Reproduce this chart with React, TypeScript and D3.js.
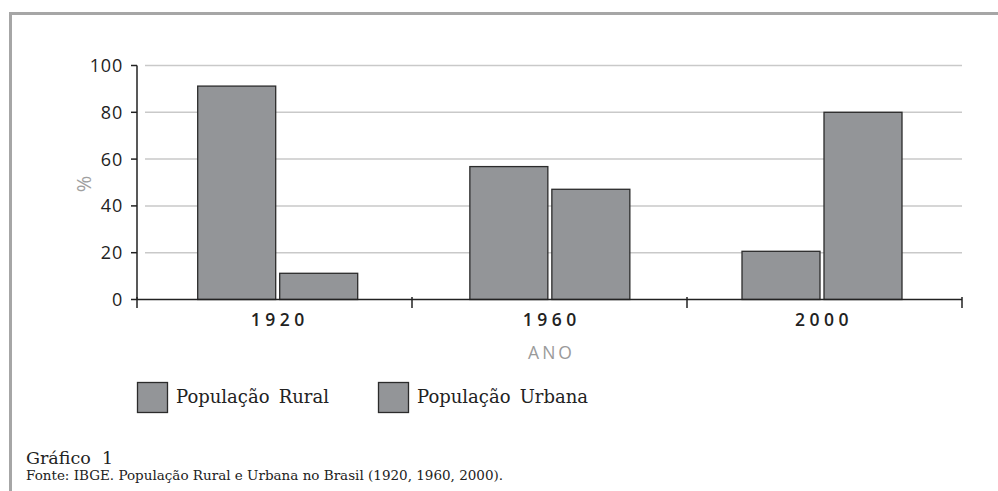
import React from "react";
import * as d3 from "d3";

const years = ["1920", "1960", "2000"];
const seriesNames = ["População Rural", "População Urbana"];
const rural = [91.2, 56.8, 20.6];
const urbana = [11.2, 47.1, 80];
const yTicks = [0, 20, 40, 60, 80, 100];
const xTitle = "ANO";
const yTitle = "%";
const chartTitle = "Gráfico  1";
const sourceText = "Fonte: IBGE. População Rural e Urbana no Brasil (1920, 1960, 2000).";

const W = 998;
const H = 491;

export default function App() {
  const x0 = d3.scaleBand<string>().domain(years).range([137, 962]).padding(0);
  const xc = d3.scalePoint<string>().domain(years).range([277.7, 822]);
  const x1 = d3.scaleBand<string>().domain(seriesNames).range([-80, 80]).paddingInner(0.0488);
  const y = d3.scaleLinear().domain([0, 100]).range([299.5, 65.5]);
  const values = [rural, urbana];
  const fill = "#939598";
  const stroke = "#2b2b2b";
  const tickFont = "'Open Sans', 'DejaVu Sans', sans-serif";
  const serif = "'DejaVu Serif', serif";
  const boundaries = [...years.map((yr) => x0(yr)!), x0.range()[1]];

  return (
    <svg width={W} height={H} style={{ position: "absolute", left: 0, top: 0, background: "#fff" }}>
      {/* frame */}
      <line x1={9} x2={W} y1={13.5} y2={13.5} stroke="#a6a6a6" strokeWidth={3} />
      <line x1={10.5} x2={10.5} y1={12} y2={H} stroke="#a6a6a6" strokeWidth={3} />

      {/* gridlines */}
      {yTicks.filter((t) => t > 0).map((t) => (
        <line key={"g" + t} x1={145} x2={962} y1={y(t)} y2={y(t)} stroke="#c9c9c9" strokeWidth={1.5} />
      ))}

      {/* bars */}
      {years.map((yr, i) => {
        const cx = xc(yr)!;
        return seriesNames.map((s, j) => (
          <rect
            key={yr + s}
            x={cx + x1(s)!}
            y={y(values[j][i])}
            width={x1.bandwidth()}
            height={y(0) - y(values[j][i])}
            fill={fill}
            stroke={stroke}
            strokeWidth={1.3}
          />
        ));
      })}

      {/* y axis */}
      <line x1={137} x2={137} y1={y(100)} y2={y(0)} stroke="#222" strokeWidth={1.5} />
      {yTicks.map((t) => (
        <g key={"t" + t}>
          <line x1={131} x2={137} y1={y(t)} y2={y(t)} stroke="#222" strokeWidth={1.5} />
          <text
            x={123}
            y={y(t)}
            dy="0.36em"
            textAnchor="end"
            fontFamily={tickFont}
            fontSize={18}
            letterSpacing={0.8}
            fill="#222"
          >
            {t}
          </text>
        </g>
      ))}
      <text
        transform={`translate(91, 184) rotate(-90)`}
        textAnchor="middle"
        fontFamily={tickFont}
        fontSize={20}
        fill="#a0a0a0"
      >
        {yTitle}
      </text>

      {/* x axis */}
      <line x1={137} x2={962} y1={y(0)} y2={y(0)} stroke="#222" strokeWidth={1.5} />
      {boundaries.map((bx, i) => (
        <line key={"xb" + i} x1={bx} x2={bx} y1={297} y2={308} stroke="#222" strokeWidth={1.5} />
      ))}
      {years.map((yr) => (
        <text
          key={"xl" + yr}
          x={xc(yr)! + 2}
          y={326}
          textAnchor="middle"
          fontFamily={tickFont}
          fontSize={17.5}
          fontWeight={600}
          letterSpacing={4.5}
          fill="#222"
        >
          {yr}
        </text>
      ))}
      <text
        x={(x0.range()[0] + x0.range()[1]) / 2 + 2}
        y={359}
        textAnchor="middle"
        fontFamily={tickFont}
        fontSize={17.5}
        letterSpacing={3}
        fill="#9a9a9a"
      >
        {xTitle}
      </text>

      {/* legend */}
      {seriesNames.map((s, j) => {
        const lx = j === 0 ? 137.5 : 378.5;
        return (
          <g key={"lg" + s}>
            <rect x={lx} y={382.5} width={30} height={30} fill={fill} stroke={stroke} strokeWidth={1.3} />
            <text x={lx + 38.5} y={403} fontFamily={serif} fontSize={18} wordSpacing={3.5} fill="#222">
              {s}
            </text>
          </g>
        );
      })}

      {/* captions */}
      <text x={26} y={464} fontFamily={serif} fontSize={17.5} fill="#222" style={{ whiteSpace: "pre" }}>
        {chartTitle}
      </text>
      <text x={26} y={480} fontFamily={serif} fontSize={13.5} fill="#222">
        {sourceText}
      </text>
    </svg>
  );
}
